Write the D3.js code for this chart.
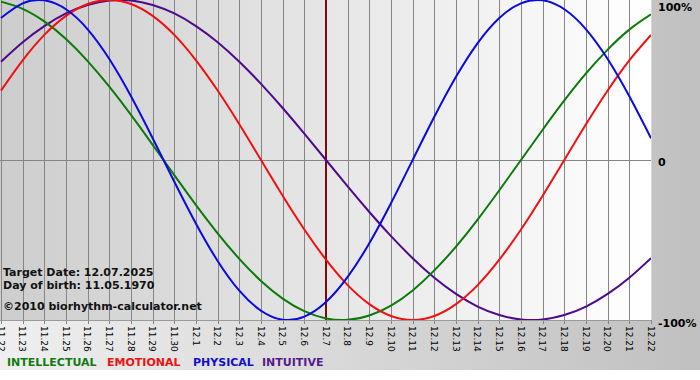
<!DOCTYPE html>
<html><head><meta charset="utf-8">
<script src="https://cdn.jsdelivr.net/npm/d3@7"></script>
<style>html,body{margin:0;padding:0;background:#fff;}svg{display:block;}</style>
</head><body>
<svg id="chart" width="700" height="380"></svg>
<script>
const days = ["11.22","11.23","11.24","11.25","11.26","11.27","11.28","11.29","11.30","12.1","12.2","12.3","12.4","12.5","12.6","12.7","12.8","12.9","12.10","12.11","12.12","12.13","12.14","12.15","12.16","12.17","12.18","12.19","12.20","12.21","12.22"];
const physical = [0.888,0.979,0.998,0.942,0.817,0.631,0.398,0.136,-0.136,-0.398,-0.631,-0.817,-0.942,-0.998,-0.979,-0.888,-0.731,-0.520,-0.270,0,0.270,0.520,0.731,0.888,0.979,0.998,0.942,0.817,0.631,0.398,0.136];
const emotional = [0.434,0.623,0.782,0.901,0.975,1,0.975,0.901,0.782,0.623,0.434,0.223,0,-0.223,-0.434,-0.623,-0.782,-0.901,-0.975,-1,-0.975,-0.901,-0.782,-0.623,-0.434,-0.223,0,0.223,0.434,0.623,0.782];
const intellectual = [0.990,0.945,0.866,0.756,0.618,0.458,0.282,0.095,-0.095,-0.282,-0.458,-0.618,-0.756,-0.866,-0.945,-0.990,-0.999,-0.972,-0.910,-0.815,-0.690,-0.541,-0.372,-0.189,0,0.189,0.372,0.541,0.690,0.815,0.910];
const intuitive = [0.614,0.736,0.837,0.916,0.969,0.997,0.997,0.969,0.916,0.837,0.736,0.614,0.476,0.325,0.165,0,-0.165,-0.325,-0.476,-0.614,-0.736,-0.837,-0.916,-0.969,-0.997,-0.997,-0.969,-0.916,-0.837,-0.736,-0.614];
const targetDay = "12.7";
const yTickLabels = [{v:1,t:"100%"},{v:0,t:"0"},{v:-1,t:"-100%"}];
const infoLines = ["Target Date: 12.07.2025","Day of birth: 11.05.1970","©2010 biorhythm-calculator.net"];
const legendItems = ["INTELLECTUAL","EMOTIONAL","PHYSICAL","INTUITIVE"];

const svg = d3.select("#chart");
const font = "'DejaVu Sans', Verdana, sans-serif";
const P = {left:1, right:651, top:0, bottom:320};
const x = d3.scaleLinear().domain([0, days.length-1]).range([P.left, P.right]);
const y = d3.scaleLinear().domain([-1, 1]).range([P.bottom, P.top]);

const defs = svg.append("defs");
const gOut = defs.append("linearGradient").attr("id","gout").attr("x1","0").attr("x2","1").attr("y1","0").attr("y2","0");
gOut.append("stop").attr("offset","0").attr("stop-color","#efefef");
gOut.append("stop").attr("offset","1").attr("stop-color","#c0c0c0");
const gIn = defs.append("linearGradient").attr("id","gin").attr("x1","0").attr("x2","1").attr("y1","0").attr("y2","0");
gIn.append("stop").attr("offset","0").attr("stop-color","#cdcdcd");
gIn.append("stop").attr("offset","1").attr("stop-color","#ffffff");
defs.append("clipPath").attr("id","clip").append("rect")
  .attr("x",0).attr("y",P.top).attr("width",P.right).attr("height",P.bottom-P.top);

svg.append("rect").attr("x",0).attr("y",0).attr("width",700).attr("height",370).attr("fill","url(#gout)");
svg.append("rect").attr("x",0).attr("y",P.top).attr("width",P.right).attr("height",P.bottom-P.top).attr("fill","url(#gin)");

// vertical grid + ticks
svg.append("g").selectAll("line").data(days).join("line")
  .attr("x1",(d,i)=>Math.round(x(i))+0.5).attr("x2",(d,i)=>Math.round(x(i))+0.5)
  .attr("y1",P.top).attr("y2",P.bottom+4)
  .attr("stroke","#858585").attr("stroke-width",1);
// borders
svg.append("line").attr("x1",0).attr("x2",P.right).attr("y1",P.bottom+0.5).attr("y2",P.bottom+0.5).attr("stroke","#9a9a9a");
svg.append("line").attr("x1",P.right+0.5).attr("x2",P.right+0.5).attr("y1",P.top).attr("y2",P.bottom).attr("stroke","#d8d8d8");
// zero line
svg.append("line").attr("x1",0).attr("x2",P.right).attr("y1",Math.round(y(0))+0.5).attr("y2",Math.round(y(0))+0.5).attr("stroke","#858585");

// x labels (rotated, glyphs centred on the tick)
svg.append("g").selectAll("text").data(days).join("text")
  .attr("transform",(d,i)=>`translate(${x(i)-3.5},${P.bottom+6}) rotate(90)`)
  .attr("font-family",font).attr("font-size",9).attr("fill","#000")
  .text(d=>d);

// target line
const ti = days.indexOf(targetDay);
svg.append("line").attr("x1",x(ti)).attr("x2",x(ti)).attr("y1",P.top).attr("y2",P.bottom)
  .attr("stroke","#7a0c0c").attr("stroke-width",2);

// curves
const line = d3.line().x((d,i)=>x(i)).y(d=>y(d)).curve(d3.curveNatural);
const series = [
  {v:intuitive, c:"#4e0a8a"},
  {v:intellectual, c:"#0b7a0b"},
  {v:emotional, c:"#f01010"},
  {v:physical, c:"#0a0ae0"}
];
const cg = svg.append("g").attr("clip-path","url(#clip)");
series.forEach(s=>{
  cg.append("path").attr("d",line(s.v)).attr("fill","none").attr("stroke",s.c).attr("stroke-width",2);
});

// y labels
svg.append("g").selectAll("text").data(yTickLabels).join("text")
  .attr("x",658).attr("y",d=>y(d.v) + (d.v===1?11:(d.v===0?6:7)))
  .attr("font-family",font).attr("font-size",11).attr("font-weight","bold").attr("fill","#000")
  .text(d=>d.t);

// info text
const infoY = [276,289,310];
svg.append("g").selectAll("text").data(infoLines).join("text")
  .attr("x",3).attr("y",(d,i)=>infoY[i])
  .attr("font-family",font).attr("font-size",11).attr("font-weight","bold").attr("fill","#111")
  .text(d=>d);

// legend
const legendColors = ["#137a13","#ee1111","#1010cc","#561a8c"];
const legendX = [7,107,193,262];
svg.append("g").selectAll("text").data(legendItems).join("text")
  .attr("x",(d,i)=>legendX[i]).attr("y",366)
  .attr("font-family",font).attr("font-size",11).attr("font-weight","bold")
  .attr("fill",(d,i)=>legendColors[i])
  .text(d=>d);
</script>
</body></html>
